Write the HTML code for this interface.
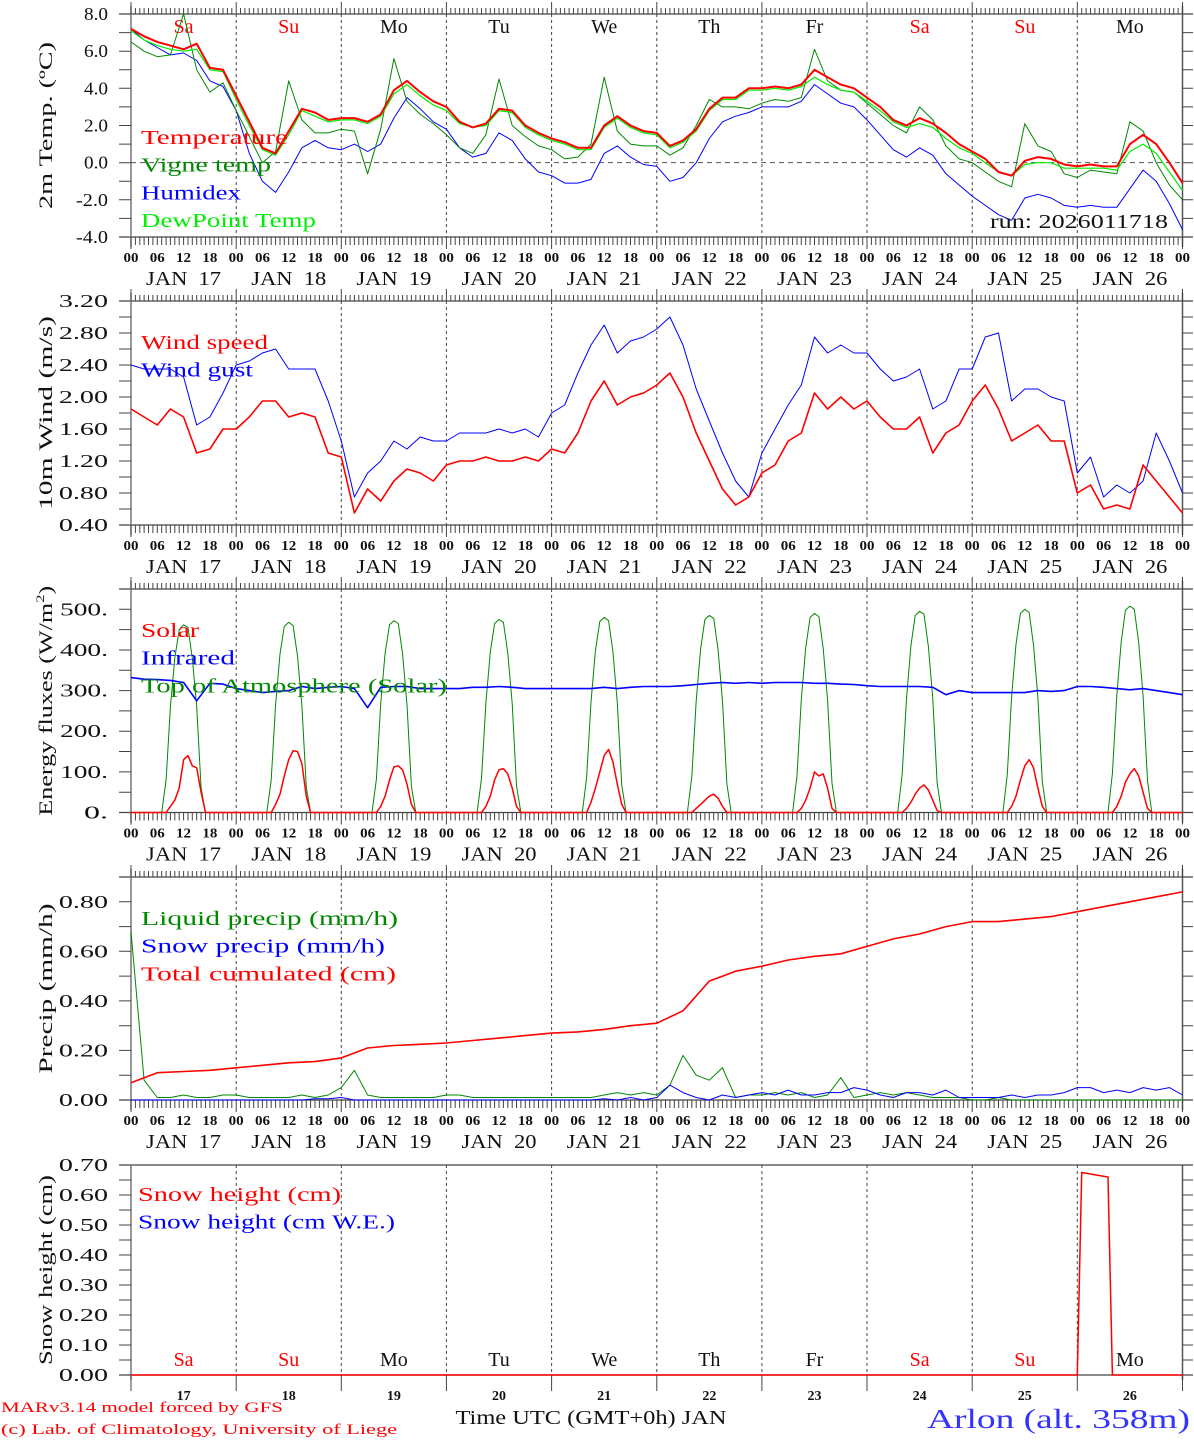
<!DOCTYPE html>
<html><head><meta charset="utf-8"><style>
html,body{margin:0;padding:0;background:#fff;}
svg{display:block;font-family:"Liberation Serif",serif;}
</style></head><body>
<svg id="chart" width="1194" height="1440" viewBox="0 0 1194 1440" xmlns="http://www.w3.org/2000/svg"></svg>
<script>
// ---------- DATA (3-hourly unless noted, starting JAN 17 00 UTC) ----------
const days = [17,18,19,20,21,22,23,24,25,26];
const weekdays = ["Sa","Su","Mo","Tu","We","Th","Fr","Sa","Su","Mo"];
const hourLabels = ["00","06","12","18"];
const tempTicks = ["8.0","6.0","4.0","2.0","0.0","-2.0","-4.0"];
const windTicks = ["3.20","2.80","2.40","2.00","1.60","1.20","0.80","0.40"];
const energyTicks = ["500.","400.","300.","200.","100.","0."];
const precipTicks = ["0.80","0.60","0.40","0.20","0.00"];
const snowTicks = ["0.70","0.60","0.50","0.40","0.30","0.20","0.10","0.00"];

const temperature = [7.2,6.8,6.5,6.3,6.1,6.4,5.1,5.0, 3.6,2.2,0.8,0.5,1.7,2.9,2.7,2.3, 2.4,2.4,2.2,2.6,3.9,4.4,3.8,3.3, 3.0,2.2,1.9,2.1,2.9,2.8,2.0,1.6, 1.3,1.1,0.8,0.8,2.0,2.5,2.0,1.7, 1.6,0.9,1.2,1.8,2.9,3.5,3.5,4.0, 4.0,4.1,4.0,4.2,5.0,4.6,4.2,4.0, 3.5,3.0,2.3,2.0,2.4,2.1,1.6,1.0, 0.6,0.2,-0.5,-0.7,0.1,0.3,0.2,-0.1, -0.2,-0.1,-0.2,-0.2,1.0,1.5,1.0,0.0,-1.1];
const vigneTemp = [6.5,6.0,5.7,5.8,8.0,5.0,3.8,4.3, 2.8,1.4,0.0,0.6,4.4,2.3,1.6,1.6, 1.8,1.7,-0.6,1.8,5.6,3.3,2.6,2.1, 1.5,0.8,0.5,1.5,4.5,2.0,1.4,0.9, 0.7,0.2,0.3,1.0,4.6,1.7,1.0,0.9, 0.9,0.4,0.8,2.0,3.4,3.0,3.0,2.9, 3.2,3.4,3.3,3.5,6.1,4.4,3.9,3.8, 3.2,2.6,2.0,1.6,3.0,2.3,0.9,0.2, 0.0,-0.5,-1.0,-1.3,2.1,0.9,0.6,-0.6, -0.8,-0.4,-0.5,-0.6,2.2,1.7,0.0,-1.2,-2.0];
const humidex = [7.2,6.6,6.2,5.8,5.9,5.5,4.4,4.1, 2.8,0.5,-1.0,-1.6,-0.5,0.8,1.2,0.8, 0.7,1.0,0.6,1.0,2.4,3.5,2.9,2.2, 1.8,0.8,0.3,0.5,1.6,1.2,0.2,-0.5, -0.7,-1.1,-1.1,-0.9,0.5,0.9,0.3,-0.1, -0.2,-1.0,-0.8,0.0,1.3,2.2,2.5,2.7, 3.0,3.0,3.0,3.3,4.2,3.7,3.2,3.0, 2.3,1.5,0.7,0.3,0.8,0.4,-0.6,-1.2, -1.8,-2.3,-2.8,-3.1,-1.9,-1.7,-1.9,-2.3, -2.4,-2.3,-2.4,-2.4,-1.4,-0.4,-1.0,-2.2,-3.6];
const dewPoint = [7.1,6.6,6.3,6.1,6.0,6.1,5.0,4.9, 3.4,2.0,0.7,0.4,1.5,2.8,2.5,2.2, 2.3,2.3,2.1,2.5,3.7,4.2,3.6,3.1, 2.8,2.1,1.9,2.0,2.8,2.7,1.9,1.5, 1.2,1.0,0.7,0.7,1.9,2.4,1.9,1.6, 1.5,0.8,1.1,1.7,2.8,3.4,3.4,3.9, 3.9,4.0,3.9,4.1,4.6,4.2,3.9,3.8, 3.3,2.8,2.2,1.9,2.1,1.9,1.3,0.8, 0.5,0.0,-0.5,-0.7,-0.1,0.0,0.0,-0.3, -0.3,-0.3,-0.3,-0.4,0.6,1.0,0.5,-0.5,-1.5];

const windSpeed = [1.85,1.75,1.65,1.85,1.75,1.30,1.35,1.60, 1.60,1.75,1.95,1.95,1.75,1.80,1.75,1.30, 1.25,0.55,0.85,0.70,0.95,1.10,1.05,0.95, 1.15,1.20,1.20,1.25,1.20,1.20,1.25,1.20, 1.35,1.30,1.55,1.95,2.20,1.90,2.00,2.05, 2.15,2.30,2.00,1.55,1.20,0.85,0.65,0.75, 1.05,1.15,1.45,1.55,2.05,1.85,2.00,1.85, 1.95,1.75,1.60,1.60,1.75,1.30,1.55,1.65, 1.95,2.15,1.85,1.45,1.55,1.65,1.45,1.45, 0.80,0.90,0.60,0.65,0.60,1.15,0.95,0.75,0.55];
const windGust = [2.40,2.35,2.35,2.35,2.25,1.65,1.75,2.05, 2.40,2.45,2.55,2.60,2.35,2.35,2.35,1.95, 1.45,0.75,1.05,1.20,1.45,1.35,1.50,1.45, 1.45,1.55,1.55,1.55,1.60,1.55,1.60,1.50, 1.80,1.90,2.30,2.65,2.90,2.55,2.70,2.75, 2.85,3.00,2.65,2.10,1.70,1.30,0.95,0.75, 1.30,1.60,1.90,2.15,2.75,2.55,2.65,2.55, 2.55,2.35,2.20,2.25,2.35,1.85,1.95,2.35, 2.35,2.75,2.80,1.95,2.10,2.10,2.00,1.95, 1.05,1.25,0.75,0.90,0.80,0.95,1.55,1.20,0.80];

const infrared = [332,328,327,325,320,275,318,316, 305,300,295,298,300,310,305,308, 310,305,258,308,310,310,305,305, 305,305,308,308,310,308,305,305, 305,305,305,305,308,305,308,310, 310,310,312,315,318,320,318,320, 318,320,320,320,318,318,316,315, 312,310,310,310,310,308,290,300, 295,295,295,295,295,300,298,300, 310,310,308,305,302,305,300,295,290];
// hourly daylight values, hours 7..17 of each day
const toaDaily = [
 [0,80,260,380,450,462,455,380,260,60,0],
 [0,80,265,390,458,468,460,385,262,62,0],
 [0,82,268,392,462,472,465,390,265,64,0],
 [0,84,270,395,465,475,468,392,268,66,0],
 [0,86,272,398,470,480,472,396,270,68,0],
 [0,88,275,402,475,485,478,400,274,70,0],
 [0,90,278,405,480,490,482,404,276,72,0],
 [0,92,280,410,485,495,488,408,280,74,0],
 [0,94,284,414,490,500,492,412,282,76,0],
 [0,96,288,420,498,508,500,418,286,78,0]];
const solarDaily = [
 [0,0,15,30,60,130,140,115,110,50,0],
 [0,0,20,45,90,130,152,150,120,40,0],
 [0,0,15,40,80,112,115,105,70,20,0],
 [0,0,15,40,80,105,108,95,60,15,0],
 [0,0,25,60,100,140,155,125,70,20,0],
 [0,0,10,20,30,40,45,35,15,0,0],
 [0,0,10,30,60,100,90,95,60,10,0],
 [0,0,10,25,45,60,68,55,30,5,0],
 [0,0,15,40,80,115,130,110,60,15,0],
 [0,0,15,40,75,95,108,90,50,10,0]];

const liquidPrecip = [0.68,0.08,0.01,0.01,0.02,0.01,0.01,0.02, 0.02,0.01,0.01,0.01,0.01,0.02,0.01,0.02, 0.05,0.12,0.02,0.01,0.01,0.01,0.01,0.01, 0.02,0.02,0.01,0.01,0.01,0.01,0.01,0.01, 0.01,0.01,0.01,0.01,0.02,0.03,0.02,0.03, 0.02,0.06,0.18,0.10,0.08,0.13,0.01,0.02, 0.02,0.03,0.02,0.03,0.01,0.02,0.09,0.01, 0.02,0.03,0.02,0.03,0.02,0.01,0.01,0.01, 0.00,0.00,0.01,0.00,0.00,0.00,0.00,0.00, 0,0,0,0,0,0,0,0,0];
const snowPrecip = [0,0,0,0,0,0,0,0, 0,0,0,0,0,0,0.005,0.005, 0.01,0,0,0,0,0,0,0, 0,0,0,0,0,0,0,0, 0,0,0,0,0.005,0,0.01,0, 0.01,0.06,0.03,0.01,0,0.02,0.01,0.02, 0.03,0.02,0.04,0.02,0.02,0.03,0.03,0.05, 0.04,0.02,0.01,0.03,0.03,0.02,0.04,0.01, 0.01,0.01,0.01,0.02,0.01,0.02,0.02,0.03, 0.05,0.05,0.03,0.04,0.03,0.05,0.04,0.05,0.02];
// 6-hourly
const totalCumul = [0.07,0.11,0.115,0.12, 0.13,0.14,0.15,0.155, 0.17,0.21,0.22,0.225, 0.23,0.24,0.25,0.26, 0.27,0.275,0.285,0.30, 0.31,0.36,0.48,0.52, 0.54,0.565,0.58,0.59, 0.62,0.65,0.67,0.70, 0.72,0.72,0.73,0.74, 0.76,0.78,0.80,0.82,0.84];

const snowHours = [0,216,217,223,224,240];
const snowHeight = [0,0,0.675,0.66,0,0];

// ---------- RENDER ----------
const NS="http://www.w3.org/2000/svg";
const svg=document.getElementById('chart');
const X0=131, X1=1182.5;
function X(h){return X0+h*(X1-X0)/240;}
function el(tag,attrs,parent){const e=document.createElementNS(NS,tag);for(const k in attrs)e.setAttribute(k,attrs[k]);(parent||svg).appendChild(e);return e;}
function txt(s,attrs,parent){const e=el('text',attrs,parent);e.textContent=s;return e;}

const panels={
 temp:{top:14,bot:237,min:-4,max:8},
 wind:{top:301,bot:525,min:0.4,max:3.2},
 energy:{top:589,bot:812.5,min:0,max:550},
 precip:{top:877,bot:1100,min:0,max:0.9},
 snow:{top:1165,bot:1375,min:0,max:0.7}
};
function Y(p,v){return p.bot-(v-p.min)*(p.bot-p.top)/(p.max-p.min);}

function frame(name,p,hourly){
  const g=el('g',{});
  
  
  el('line',{x1:119,x2:1193,y1:p.top,y2:p.top,stroke:'#444','stroke-width':1.3},g);
  el('line',{x1:119,x2:1193,y1:p.bot,y2:p.bot,stroke:'#444','stroke-width':1.3},g);
  el('line',{x1:X0,x2:X0,y1:p.top-(hourly?8:0),y2:p.bot+(hourly?10:5),stroke:'#777','stroke-width':1.5},g);
  el('line',{x1:X1,x2:X1,y1:p.top-(hourly?8:0),y2:p.bot+(hourly?10:5),stroke:'#555','stroke-width':1.5},g);
  let d='';
  if(hourly){
    for(let h=0;h<=240;h++){const x=X(h).toFixed(1);const L=(h%24==0)?12:6;d+=`M${x} ${p.top}V${p.top-L}M${x} ${p.bot}V${p.bot+(h%24==0?12:8)}`;}
  } else {
    for(let i=0;i<=10;i++){const x=X(i*24).toFixed(1);d+=`M${x} ${p.bot}V${p.bot+16}`;}
  }
  el('path',{d:d,stroke:'#444','stroke-width':1,fill:'none'},g);
  let dd='';
  for(let i=1;i<10;i++){const x=X(i*24).toFixed(1);dd+=`M${x} ${p.top}V${p.bot}`;}
  el('path',{d:dd,stroke:'#444','stroke-width':1,'stroke-dasharray':'3,3',fill:'none'},g);
}
function yaxis(name,p,labels,minorStep,title,titleLen,labLen){
  const g=el('g',{});
  
  
  const step=(parseFloat(labels[0])-parseFloat(labels[1]));
  const lo=parseFloat(labels[labels.length-1]);
  let d='';
  for(let v=p.min;v<=p.max+1e-6;v+=minorStep){const y=Y(p,v).toFixed(1);d+=`M119 ${y}H${X0}M${X1} ${y}H1193`;}
  el('path',{d:d,stroke:'#444','stroke-width':1,fill:'none'},g);
  labels.forEach(s=>{
    const v=parseFloat(s);
    const t=txt(s,{x:108,y:Y(p,v)+6,'text-anchor':'end','font-size':18,fill:'#111',textLength:labLen*s.length/3.5,lengthAdjust:'spacingAndGlyphs'},g);
    
    
  });
  const cy=(p.top+p.bot)/2;
  const tt=el('text',{x:0,y:0,transform:`translate(52 ${cy}) rotate(-90)`,'text-anchor':'middle','font-size':19,fill:'#111',textLength:titleLen,lengthAdjust:'spacingAndGlyphs'},g);
  tt.innerHTML=title;
  
  
}
function xlabels(name,p){
  const g=el('g',{});
  
  
  for(let i=0;i<=40;i++){
    const s=hourLabels[i%4];
    const t=txt(s,{x:X(i*6),y:p.bot+25,'text-anchor':'middle','font-size':14,'font-weight':'bold',fill:'#111',textLength:15,lengthAdjust:'spacingAndGlyphs'},g);
    
    
  }
  days.forEach((d,i)=>{
    const t=txt('JAN\u00a0\u00a0'+d,{x:X(i*24+12),y:p.bot+48,'text-anchor':'middle','font-size':20,fill:'#111',textLength:75,lengthAdjust:'spacingAndGlyphs'},g);
    
    
  });
}
function series(name,p,vals,stepH,color,w){
  let d='';
  vals.forEach((v,i)=>{d+=(i?'L':'M')+X(i*stepH).toFixed(1)+' '+Y(p,v).toFixed(1);});
  const e=el('path',{d:d,stroke:color,'stroke-width':w,fill:'none','stroke-linejoin':'round'});
  
  
}
function dailySeries(name,p,daily,color,w){
  let d='M'+X(0)+' '+Y(p,0);
  daily.forEach((arr,di)=>{arr.forEach((v,j)=>{d+='L'+X(di*24+7+j).toFixed(1)+' '+Y(p,v).toFixed(1);});});
  d+='L'+X(240)+' '+Y(p,0);
  const e=el('path',{d:d,stroke:color,'stroke-width':w,fill:'none','stroke-linejoin':'round'});
  
  
}
function legend(items,x,y0){
  items.forEach((it,i)=>{
    const t=txt(it[0],{x:x,y:y0+i*27.7,'font-size':20,fill:it[1],textLength:it[2],lengthAdjust:'spacingAndGlyphs'});
    
    
  });
}

// Panel 1: temperature
let P=panels.temp;
frame('temp',P,true);
el('line',{x1:X0,x2:X1,y1:Y(P,0),y2:Y(P,0),stroke:'#555','stroke-width':1,'stroke-dasharray':'5,4'});
weekdays.forEach((w,i)=>{const t=txt(w,{x:X(i*24+12),y:33,'text-anchor':'middle','font-size':20,fill:(w=='Sa'||w=='Su')?'#f00':'#111'});
  });
series('humidex-line',P,humidex,3,'#00f',1);
series('vigne-temp-line',P,vigneTemp,3,'#080',1);
series('dewpoint-line',P,dewPoint,3,'#0e0',1.2);
series('temperature-line',P,temperature,3,'#f00',2);
yaxis('temp',P,tempTicks,1,'2m Temp. (ºC)',167,28);
xlabels('temp',P);
legend([['Temperature','#f00',147],['Vigne temp','#080',130],['Humidex','#00f',100],['DewPoint Temp','#0e0',175]],141,144);
{const t=txt('run: 2026011718',{x:1168,y:228,'text-anchor':'end','font-size':20,fill:'#111',textLength:178,lengthAdjust:'spacingAndGlyphs'});
 }

// Panel 2: wind
P=panels.wind;
frame('wind',P,true);
series('wind-gust-line',P,windGust,3,'#00f',1);
series('wind-speed-line',P,windSpeed,3,'#f00',1.6);
yaxis('wind',P,windTicks,0.2,'10m Wind (m/s)',194,43);
xlabels('wind',P);
legend([['Wind speed','#f00',127],['Wind gust','#00f',112]],141,349);

// Panel 3: energy
P=panels.energy;
frame('energy',P,true);
dailySeries('toa-solar-line',P,toaDaily,'#080',1);
dailySeries('solar-line',P,solarDaily,'#f00',1.5);
series('infrared-line',P,infrared,3,'#00f',1.6);
yaxis('energy',P,energyTicks,50,'Energy fluxes (W/m<tspan font-size="12" dy="-8">2</tspan><tspan dy="8">)</tspan>',230,42);
xlabels('energy',P);
legend([['Solar','#f00',58],['Infrared','#00f',94],['Top of Atmosphere (Solar)','#080',306]],141,637);

// Panel 4: precip
P=panels.precip;
frame('precip',P,true);
series('liquid-precip-line',P,liquidPrecip,3,'#080',1);
series('snow-precip-line',P,snowPrecip,3,'#00f',1);
series('total-cumulated-line',P,totalCumul,6,'#f00',1.6);
yaxis('precip',P,precipTicks,0.1,'Precip (mm/h)',170,43);
xlabels('precip',P);
legend([['Liquid precip (mm/h)','#080',257],['Snow precip (mm/h)','#00f',244],['Total cumulated (cm)','#f00',255]],141,925);

// Panel 5: snow
P=panels.snow;
frame('snow',P,false);
yaxis('snow',P,snowTicks,0.05,'Snow height (cm)',190,43);
{let d='';snowHours.forEach((h,i)=>{d+=(i?'L':'M')+X(h).toFixed(1)+' '+Y(P,snowHeight[i]).toFixed(1);});
 const e=el('path',{d:d,stroke:'#f00','stroke-width':1.5,fill:'none'});
 }
weekdays.forEach((w,i)=>{const t=txt(w,{x:X(i*24+12),y:1366,'text-anchor':'middle','font-size':20,fill:(w=='Sa'||w=='Su')?'#f00':'#111'});
  });
days.forEach((d,i)=>{const t=txt(String(d),{x:X(i*24+12),y:1400,'text-anchor':'middle','font-size':14,'font-weight':'bold',fill:'#111'});
  });
legend([['Snow height (cm)','#f00',203],['Snow height (cm W.E.)','#00f',257]],138,1201);

// Footer
{let t=txt('Time UTC (GMT+0h) JAN',{x:591,y:1424,'text-anchor':'middle','font-size':20,fill:'#111',textLength:271,lengthAdjust:'spacingAndGlyphs'});
 
 t=txt('MARv3.14 model forced by GFS',{x:1,y:1412,'font-size':15,fill:'#f00',textLength:282,lengthAdjust:'spacingAndGlyphs'});
 
 t=txt('(c) Lab. of Climatology, University of Liege',{x:1,y:1434,'font-size':15,fill:'#f00',textLength:396,lengthAdjust:'spacingAndGlyphs'});
 
 t=txt('Arlon (alt. 358m)',{x:1190,y:1428,'text-anchor':'end','font-size':27,fill:'#33f',textLength:263,lengthAdjust:'spacingAndGlyphs'});
 }
</script>
</body></html>
